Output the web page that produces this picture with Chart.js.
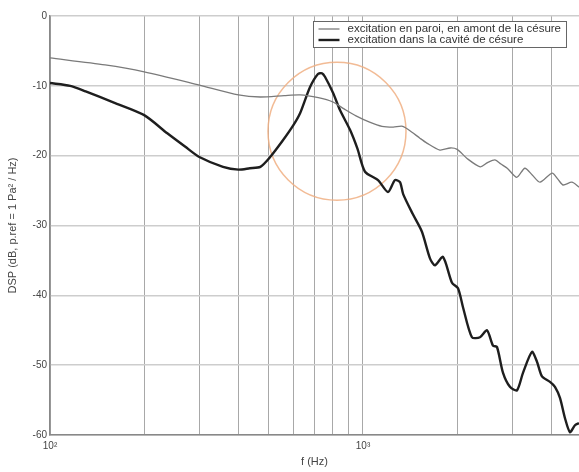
<!DOCTYPE html>
<html>
<head>
<meta charset="utf-8">
<script src="https://cdn.jsdelivr.net/npm/chart.js@4.4.1/dist/chart.umd.min.js"></script>
<style>
  html, body { margin: 0; padding: 0; background: #fff; overflow: hidden; }
  #dsp { display: block; }
</style>
</head>
<body>
<canvas id="dsp" width="579" height="472"></canvas>
<script>
// excitation en paroi, en amont de la césure (courbe grise)
const freqParoi = [100, 150, 200, 300, 400, 470, 560, 630, 720, 800, 870, 950, 1050, 1150, 1250, 1340, 1430, 1520, 1600,
  1760, 1900, 2000, 2150, 2370, 2500, 2640, 2760, 2890, 3100, 3290, 3480, 3680, 4020, 4200, 4360, 4650, 4900];
const dspParoi = [-6.0, -7.0, -8.0, -9.9, -11.3, -11.6, -11.4, -11.3, -11.7, -12.3, -13.3, -14.3, -15.2, -15.8, -15.9, -15.8, -16.6, -17.5, -18.2,
  -19.2, -18.9, -19.1, -20.4, -21.6, -21.0, -20.6, -21.2, -21.8, -23.1, -21.8, -22.8, -23.8, -22.5, -23.4, -24.2, -23.8, -24.5];

// excitation dans la cavité de césure (courbe noire)
const freqCavite = [100, 116, 130, 160, 200, 237, 270, 300, 357, 400, 435, 470, 505, 555, 600, 630, 677, 718, 740, 756, 802, 845, 909, 960,
  1015, 1117, 1202, 1265, 1313, 1344, 1444, 1543, 1637, 1698, 1801, 1925, 2012, 2087, 2229, 2365, 2490, 2602, 2680, 2802, 2948, 3105,
  3245, 3467, 3597, 3732, 3958, 4106, 4260, 4420, 4585, 4757, 4900];
const dspCavite = [-9.6, -10.0, -10.8, -12.4, -14.2, -16.8, -18.7, -20.2, -21.6, -22.0, -21.8, -21.6, -20.2, -17.8, -15.6, -13.9, -10.2, -8.3, -8.2, -8.7, -11.0, -13.5, -16.3, -19.0,
  -22.3, -23.5, -25.2, -23.5, -23.8, -25.5, -28.4, -30.9, -34.7, -35.7, -34.5, -38.2, -39.0, -41.7, -46.0, -46.0, -45.0, -47.2, -47.4, -51.1, -53.1, -53.6,
  -51.1, -48.1, -49.5, -51.6, -52.4, -53.1, -54.7, -57.6, -59.6, -58.6, -58.3];

// centre de la zone entourée autour du pic
const zoneFreq = 826;
const zoneDsp = -16.5;

// axes
const xGrid = [100, 200, 300, 400, 500, 600, 700, 800, 900, 1000, 2000, 3000, 4000];
const xLabelValues = [100, 1000];
const xLabelTexts = ['10²', '10³'];
const yTicks = [0, -10, -20, -30, -40, -50, -60];

const toPoints = (xs, ys) => xs.map((x, i) => ({ x: x, y: ys[i] }));

// cercle orange, placé avec les échelles du graphe
const zoneCircle = {
  id: 'zoneCircle',
  beforeDatasetsDraw(chart) {
    const ctx = chart.ctx;
    const cx = chart.scales.x.getPixelForValue(zoneFreq);
    const cy = chart.scales.y.getPixelForValue(zoneDsp);
    ctx.save();
    ctx.strokeStyle = 'rgba(240, 175, 130, 0.85)';
    ctx.lineWidth = 1.5;
    ctx.beginPath();
    ctx.arc(cx, cy, 69, 0, Math.PI * 2);
    ctx.stroke();
    ctx.restore();
  }
};

// légende encadrée dans le coin haut droit
const legendBox = {
  id: 'legendBox',
  afterDatasetsDraw(chart) {
    const ctx = chart.ctx;
    const items = chart.data.datasets;
    const left = 313.5, top = 21.5, w = 253, h = 26;
    ctx.save();
    ctx.fillStyle = '#fff';
    ctx.fillRect(left, top, w, h);
    ctx.strokeStyle = '#666';
    ctx.lineWidth = 1;
    ctx.strokeRect(left, top, w, h);
    ctx.font = '11.5px "Liberation Sans", Arial, sans-serif';
    ctx.textBaseline = 'middle';
    items.forEach((ds, i) => {
      const y = top + 7.5 + i * 11;
      ctx.strokeStyle = ds.borderColor;
      ctx.lineWidth = ds.borderWidth;
      ctx.beginPath();
      ctx.moveTo(left + 5, y);
      ctx.lineTo(left + 26, y);
      ctx.stroke();
      ctx.fillStyle = '#333';
      ctx.fillText(ds.label, left + 34, y);
    });
    ctx.restore();
  }
};

new Chart(document.getElementById('dsp'), {
  type: 'line',
  data: {
    datasets: [
      {
        label: 'excitation en paroi, en amont de la césure',
        data: toPoints(freqParoi, dspParoi),
        borderColor: '#7a7a7a',
        borderWidth: 1.3,
        pointRadius: 0,
        tension: 0.25
      },
      {
        label: 'excitation dans la cavité de césure',
        data: toPoints(freqCavite, dspCavite),
        borderColor: '#1e1e1e',
        borderWidth: 2.4,
        pointRadius: 0,
        tension: 0.25
      }
    ]
  },
  options: {
    responsive: false,
    animation: false,
    events: [],
    layout: { padding: { top: 16, right: 0, left: 0, bottom: 0 } },
    plugins: { legend: { display: false }, tooltip: { enabled: false } },
    scales: {
      x: {
        type: 'logarithmic',
        min: 100,
        max: 4900,
        afterBuildTicks: (s) => { s.ticks = xGrid.map(v => ({ value: v })); },
        afterFit: (s) => { s.height = 37; },
        ticks: {
          autoSkip: false,
          maxRotation: 0,
          padding: 5,
          color: '#444',
          font: { family: '"Liberation Sans", Arial, sans-serif', size: 10 },
          callback: (v) => {
            const i = xLabelValues.indexOf(v);
            return i >= 0 ? xLabelTexts[i] : '';
          }
        },
        grid: { color: '#a8a8a8', lineWidth: 1, drawTicks: false },
        border: { color: '#888', width: 1.5 },
        title: {
          display: true,
          text: 'f (Hz)',
          color: '#444',
          font: { family: '"Liberation Sans", Arial, sans-serif', size: 11 },
          padding: { top: 0, bottom: 3 }
        }
      },
      y: {
        min: -60,
        max: 0,
        afterBuildTicks: (s) => { s.ticks = yTicks.map(v => ({ value: v })); },
        afterFit: (s) => { s.width = 50; },
        ticks: {
          padding: 3,
          color: '#444',
          font: { family: '"Liberation Sans", Arial, sans-serif', size: 10 }
        },
        grid: { color: '#cdcdcd', lineWidth: 1.6, drawTicks: false },
        border: { color: '#888', width: 1.5 },
        title: {
          display: true,
          text: 'DSP (dB, p.ref = 1 Pa² / Hz)',
          color: '#444',
          font: { family: '"Liberation Sans", Arial, sans-serif', size: 11 },
          padding: { top: 6, bottom: 0 }
        }
      }
    }
  },
  plugins: [zoneCircle, legendBox]
});
</script>
</body>
</html>
